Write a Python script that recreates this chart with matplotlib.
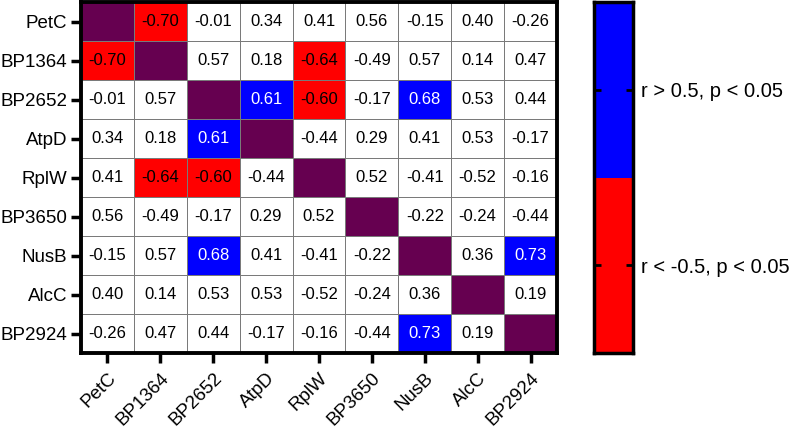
import matplotlib.pyplot as plt
import numpy as np
from matplotlib.colors import ListedColormap

plt.rcParams['font.family'] = ['Liberation Sans', 'DejaVu Sans']

genes = ['PetC', 'BP1364', 'BP2652', 'AtpD', 'RplW', 'BP3650', 'NusB', 'AlcC', 'BP2924']

# lower triangle of the correlation matrix, row by row
r_lower = [
    [],
    [-0.70],
    [-0.01, 0.57],
    [0.34, 0.18, 0.61],
    [0.41, -0.64, -0.60, -0.44],
    [0.56, -0.49, -0.17, 0.29, 0.52],
    [-0.15, 0.57, 0.68, 0.41, -0.41, -0.22],
    [0.40, 0.14, 0.53, 0.53, -0.52, -0.24, 0.36],
    [-0.26, 0.47, 0.44, -0.17, -0.16, -0.44, 0.73, 0.19],
]

# pairs with p < 0.05
significant = [('PetC', 'BP1364'), ('BP1364', 'RplW'), ('BP2652', 'RplW'),
               ('BP2652', 'AtpD'), ('BP2652', 'NusB'), ('NusB', 'BP2924')]

legend_labels = ['r < -0.5, p < 0.05', 'r > 0.5, p < 0.05']

RED = '#ff0000'
BLUE = '#0000ff'
WHITE = '#ffffff'
PURPLE = '#660050'

n = len(genes)
r = np.full((n, n), np.nan)
for i, row in enumerate(r_lower):
    for j, v in enumerate(row):
        r[i, j] = v
        r[j, i] = v

sig = np.zeros((n, n), dtype=bool)
for a, b in significant:
    i, j = genes.index(a), genes.index(b)
    sig[i, j] = sig[j, i] = True

# 0 white, 1 red, 2 blue, 3 diagonal
cat = np.zeros((n, n))
cat[sig & (r < -0.5)] = 1
cat[sig & (r > 0.5)] = 2
np.fill_diagonal(cat, 3)

fig = plt.figure(figsize=(7.98, 4.30), dpi=100)
ax = fig.add_axes([0.1015, 0.179, 0.5965, 0.8163])
ax.pcolormesh(np.arange(n + 1), np.arange(n + 1), cat,
              cmap=ListedColormap([WHITE, RED, BLUE, PURPLE]), vmin=-0.5, vmax=3.5,
              edgecolor='#7a7a7a', linewidth=0.6)
ax.set_xlim(0, n)
ax.set_ylim(n, 0)

for i in range(n):
    for j in range(n):
        if i == j:
            continue
        color = 'white' if cat[i, j] == 2 else 'black'
        ax.text(j + 0.5, i + 0.5, f'{r[i, j]:.2f}', ha='center', va='center',
                fontsize=12, color=color)

ax.set_xticks(np.arange(n) + 0.5)
ax.set_yticks(np.arange(n) + 0.5)
ax.set_xticklabels(genes, rotation=45, ha='right', rotation_mode='anchor', fontsize=13.5)
ax.set_yticklabels(genes, fontsize=13.5)
ax.tick_params(length=7, width=2.5, pad=3)
ax.tick_params(axis='x', pad=5)
for s in ax.spines.values():
    s.set_linewidth(2.8)

cax = fig.add_axes([0.744, 0.179, 0.049, 0.8163])
cax.pcolormesh([0, 1], [0, 1, 2], np.array([[0], [1]]),
               cmap=ListedColormap([RED, BLUE]), vmin=-0.5, vmax=1.5)
cax.set_xlim(0, 1)
cax.set_ylim(0, 2)
cax.set_xticks([])
cax.set_yticks([0.5, 1.5])
cax.set_yticklabels(legend_labels, fontsize=14.5)
cax.yaxis.tick_right()
cax.tick_params(axis='y', direction='in', left=True, right=True, length=5, width=2, pad=6)
for s in cax.spines.values():
    s.set_linewidth(2.5)

plt.savefig('out.png', dpi=100)
